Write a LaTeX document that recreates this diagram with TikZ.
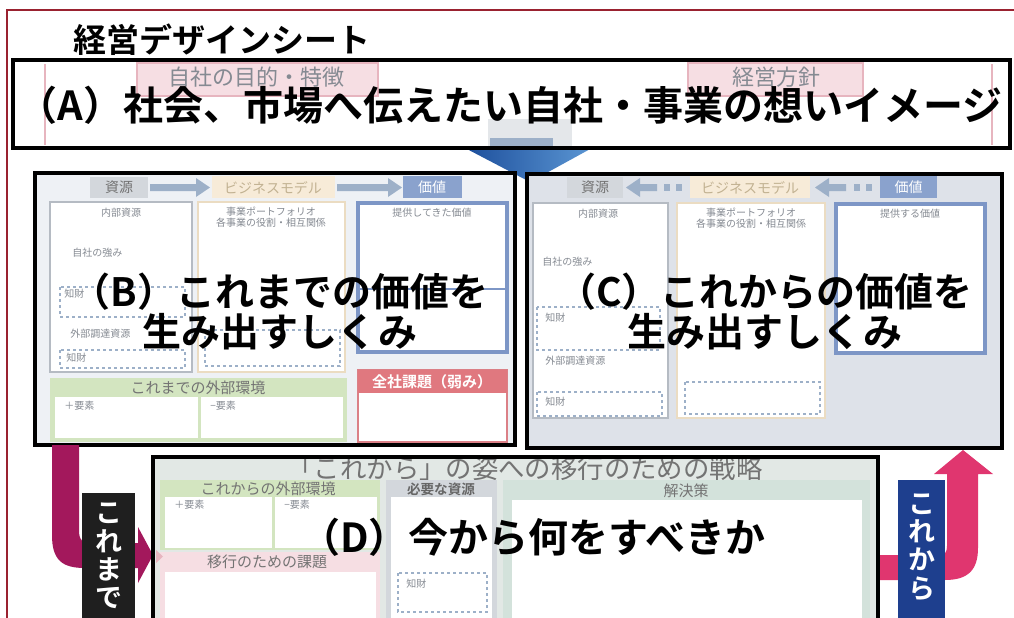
\documentclass[tikz,border=0pt]{standalone}
\usepackage{fontspec}
\setmainfont{Noto Sans CJK JP}[BoldFont={Noto Sans CJK JP Bold}]
\definecolor{frameRed}{HTML}{9A2230}
\definecolor{magArrow}{HTML}{A3185C}
\definecolor{pinkArrow}{HTML}{E0366F}
\definecolor{labBlue}{HTML}{1E3F8E}
\definecolor{chevDark}{HTML}{1D4F9C}
\definecolor{chevLight}{HTML}{5B96D3}
\definecolor{pinkFill}{HTML}{F6DEE3}
\definecolor{pinkLine}{HTML}{E7B5BF}
\definecolor{grayBox}{HTML}{D3D7DC}
\definecolor{grayLine}{HTML}{B5BBC3}
\definecolor{beigeFill}{HTML}{F7EBD8}
\definecolor{beigeLine}{HTML}{EBDCC2}
\definecolor{beigeText}{HTML}{C2B292}
\definecolor{valBlue}{HTML}{8AA2CD}
\definecolor{valLine}{HTML}{7D96C6}
\definecolor{arrowGray}{HTML}{9DB0C8}
\definecolor{greenFill}{HTML}{D3E5C0}
\definecolor{redHead}{HTML}{E0787F}
\definecolor{redLine}{HTML}{DB8087}
\definecolor{bBg}{HTML}{EEF1F5}
\definecolor{cBg}{HTML}{DEE2E9}
\definecolor{dBg}{HTML}{E2E8E5}
\definecolor{solFill}{HTML}{D3E2DB}
\definecolor{tmplText}{HTML}{858A92}
\begin{document}
\begin{tikzpicture}[x=0.5pt,y=-0.5pt,
  bigtext/.style={font=\bfseries\fontsize{20}{20}\selectfont, inner sep=0pt, align=center},
  tmpl/.style={font=\fontsize{5}{6}\selectfont, text=tmplText, inner sep=0pt},
  hdr/.style={font=\fontsize{7}{8}\selectfont, inner sep=0pt},
  thickframe/.style={draw=black, line width=1.6pt},
  dashbox/.style={draw=arrowGray, line width=0.7pt, dash pattern=on 1.5pt off 1.5pt},
  vlab/.style={font=\bfseries\fontsize{13.5}{14.2}\selectfont, text=white, align=center, inner sep=0pt},
  panel/.style={line width=1.3pt},
]
\useasboundingbox (0,0) rectangle (1014,617);
\fill[white] (0,0) rectangle (1014,617);
\draw[frameRed, line width=0.8pt] (7,620) -- (7,10) -- (1016,10);

% title
\node[font=\bfseries\fontsize{16.5}{18}\selectfont, anchor=west, inner sep=0pt] (title) at (73,40) {経営デザインシート};

% blue chevron
\shade[left color=chevDark, right color=chevLight] (465,148) -- (592,148) -- (530,182) -- cycle;

% ---------- box A ----------
\fill[white] (13,60) rectangle (1010,148);
\draw[pinkLine, line width=0.8pt] (45,64) -- (45,145);
\draw[pinkLine, line width=0.8pt] (992,64) -- (992,145);
\draw[pinkLine, fill=pinkFill, line width=0.8pt] (137,63) rectangle (378,96);
\draw[pinkLine, fill=pinkFill, line width=0.8pt] (688,63) rectangle (863,96);
\node[font=\fontsize{11}{12}\selectfont, text=tmplText, inner sep=0pt] (purpose) at (257,77) {自社の目的・特徴};
\node[font=\fontsize{11}{12}\selectfont, text=tmplText, inner sep=0pt] (policy) at (776,77) {経営方針};
\fill[grayBox!60] (488,119) rectangle (572,147);
\fill[arrowGray] (490,138) rectangle (553,147);
\node[bigtext] (A) at (510,105) {（A）社会、市場へ伝えたい自社・事業の想いイメージ};
\draw[black, line width=2pt] (13,60) rectangle (1010,148);

% ---------- box B ----------
\fill[bBg] (35,173) rectangle (515,445);
\fill[grayBox] (90,177) rectangle (148,198);
\node[hdr, text=black!55] (bres) at (119,187.5) {資源};
\fill[arrowGray] (150,184) -- (196,184) -- (196,178) -- (210,187.5) -- (196,197) -- (196,191) -- (150,191) -- cycle;
\fill[beigeFill] (212,176) rectangle (335,198);
\node[hdr, text=beigeText] (bbm) at (273,187.5) {ビジネスモデル};
\fill[arrowGray] (337,184) -- (388,184) -- (388,178) -- (402,187.5) -- (388,197) -- (388,191) -- (337,191) -- cycle;
\fill[valBlue] (403,176) rectangle (462,198);
\node[hdr, text=white] (bval) at (432,187.5) {価値};
% internal resources
\draw[grayLine, fill=white, panel] (50,202) rectangle (192,372);
\node[tmpl] (bint) at (121,213) {内部資源};
\node[tmpl, anchor=west] (bstr) at (72,253) {自社の強み};
\draw[dashbox] (60,287) rectangle (185,317);
\node[tmpl, anchor=west] (bip1) at (64,294) {知財};
\node[tmpl, anchor=west] (bext) at (70,334) {外部調達資源};
\draw[dashbox] (60,350) rectangle (185,368);
\node[tmpl, anchor=west] (bip2) at (66,358) {知財};
% portfolio
\draw[beigeLine, fill=white, panel] (198,202) rectangle (345,372);
\node[tmpl] (bpf) at (271,212) {事業ポートフォリオ};
\node[tmpl] (bpf2) at (271,223) {各事業の役割・相互関係};
\draw[dashbox] (205,330) rectangle (340,366);
% value
\draw[valLine, fill=white, line width=1.6pt] (358,203) rectangle (507,352);
\draw[valLine, line width=0.8pt] (358,289) -- (507,289);
\node[tmpl] (bvalt) at (432,213) {提供してきた価値};
% external environment
\fill[greenFill] (50,378) rectangle (347,442);
\node[font=\fontsize{7.5}{8}\selectfont, text=black!55, inner sep=0pt] (benv) at (198,388) {これまでの外部環境};
\fill[white] (55,397) rectangle (198,438);
\fill[white] (201,397) rectangle (343,438);
\node[tmpl, anchor=west] (bplus) at (64,406) {＋要素};
\node[tmpl, anchor=west] (bminus) at (210,406) {−要素};
% company issues
\draw[redLine, fill=white, panel] (358,370) rectangle (507,442);
\fill[redHead] (358,370) rectangle (507,393);
\node[font=\bfseries\fontsize{7.5}{8}\selectfont, text=white, inner sep=0pt] (bissue) at (432,381.5) {全社課題（弱み）};
\node[bigtext, font=\bfseries\fontsize{19.5}{20}\selectfont] (B) at (280,311) {（B）これまでの価値を\\生み出すしくみ};
\draw[thickframe] (35,173) rectangle (515,445);

% ---------- box C ----------
\fill[cBg] (527,174) rectangle (1002,448);
\fill[grayBox] (567,177) rectangle (623,198);
\node[hdr, text=black!55] (cres) at (595,187.5) {資源};
\fill[arrowGray] (657,184) -- (640,184) -- (640,178) -- (626,187.5) -- (640,197) -- (640,191) -- (657,191) -- cycle;
\fill[arrowGray] (664,184) rectangle (670,191);
\fill[arrowGray] (676,184) rectangle (682,191);
\fill[beigeFill] (690,176) rectangle (810,198);
\node[hdr, text=beigeText] (cbm) at (750,187.5) {ビジネスモデル};
\fill[arrowGray] (846,184) -- (829,184) -- (829,178) -- (815,187.5) -- (829,197) -- (829,191) -- (846,191) -- cycle;
\fill[arrowGray] (854,184) rectangle (860,191);
\fill[arrowGray] (866,184) rectangle (872,191);
\fill[valBlue] (880,176) rectangle (937,198);
\node[hdr, text=white] (cval) at (908.5,187.5) {価値};
% internal resources
\draw[grayLine, fill=white, panel] (533,203) rectangle (668,418);
\node[tmpl] (cint) at (598,214) {内部資源};
\node[tmpl, anchor=west] (cstr) at (542,262) {自社の強み};
\draw[dashbox] (537,307) rectangle (660,350);
\node[tmpl, anchor=west] (cip1) at (545,318) {知財};
\node[tmpl, anchor=west] (cext) at (545,361) {外部調達資源};
\draw[dashbox] (537,392) rectangle (662,416);
\node[tmpl, anchor=west] (cip2) at (545,402) {知財};
% portfolio
\draw[beigeLine, fill=white, panel] (677,203) rectangle (825,418);
\node[tmpl] (cpf) at (751,213) {事業ポートフォリオ};
\node[tmpl] (cpf2) at (751,224) {各事業の役割・相互関係};
\draw[dashbox] (685,382) rectangle (820,414);
% value
\draw[valLine, fill=white, line width=1.6pt] (836,204) rectangle (985,353);
\node[tmpl] (cvalt) at (910,214) {提供する価値};
\node[bigtext, font=\bfseries\fontsize{19.5}{20}\selectfont] (C) at (765,311) {（C）これからの価値を\\生み出すしくみ};
\draw[thickframe] (527,174) rectangle (1002,448);

% ---------- arrows ----------
\fill[magArrow] (52,445) -- (52,535) .. controls (52,560) and (62,568) .. (85,568) -- (138,568) -- (138,583) -- (153,555) -- (138,527) -- (138,543) -- (92,543) .. controls (82,543) and (79,540) .. (79,530) -- (79,445) -- cycle;
\fill[pinkArrow] (878,555) -- (940,555) .. controls (945,555) and (947,552) .. (947,546) -- (947,474) -- (934,474) -- (963,450) -- (993,474) -- (978,474) -- (978,548) .. controls (978,570) and (968,580) .. (945,580) -- (878,580) -- cycle;

% ---------- box D ----------
\fill[dBg] (153,457) rectangle (878,625);
\node[font=\fontsize{13.2}{14}\selectfont, text=black!55, inner sep=0pt] (dtitle) at (525,468) {「これから」の姿への移行のための戦略};
\fill[greenFill] (160,480) rectangle (380,550);
\node[font=\fontsize{7.5}{8}\selectfont, text=black!55, inner sep=0pt] (denv) at (268,489) {これからの外部環境};
\fill[white] (165,497) rectangle (272,548);
\fill[white] (275,497) rectangle (377,548);
\node[tmpl, anchor=west] (dplus) at (174,505) {＋要素};
\node[tmpl, anchor=west] (dminus) at (284,505) {−要素};
\fill[pinkFill] (160,552) rectangle (380,625);
\node[font=\fontsize{7.5}{8}\selectfont, text=black!55, inner sep=0pt] (dtask) at (267,562) {移行のための課題};
\fill[white] (165,572) rectangle (376,625);
\fill[grayBox] (386,480) rectangle (497,625);
\node[font=\bfseries\fontsize{6.8}{8}\selectfont, text=black!60, inner sep=0pt] (dneed) at (441,489) {必要な資源};
\fill[white] (391,497) rectangle (492,625);
\draw[dashbox] (398,573) rectangle (487,612);
\node[tmpl, anchor=west] (dip) at (406,584) {知財};
\fill[solFill] (503,480) rectangle (870,625);
\node[font=\fontsize{7.5}{8}\selectfont, text=black!55, inner sep=0pt] (dsol) at (686,491) {解決策};
\fill[white] (512,500) rectangle (862,625);
\fill[pinkLine] (156,550) -- (163,556.5) -- (156,563) -- cycle;
\node[bigtext] (D) at (533,537) {（D）今から何をすべきか};
\draw[thickframe] (153,625) -- (153,457) -- (878,457) -- (878,625);

% ---------- labels ----------
\fill[black!88] (82,493) rectangle (135,625);
\node[vlab] (sofar) at (108.5,556) {こ\\れ\\ま\\で};
\fill[labBlue] (898,480) rectangle (945,625);
\node[vlab] (fromnow) at (921.5,547) {こ\\れ\\か\\ら};
\end{tikzpicture}
\end{document}
